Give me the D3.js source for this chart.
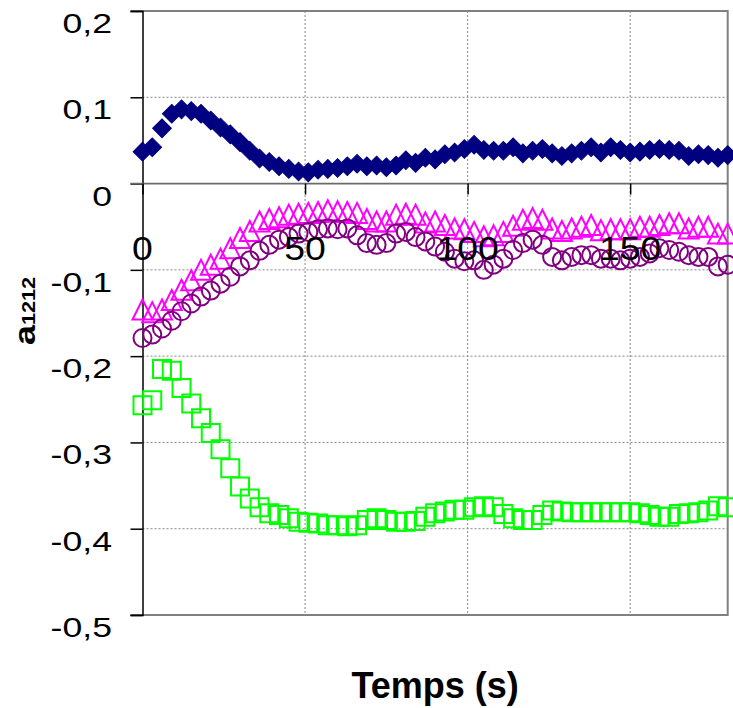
<!DOCTYPE html>
<html>
<head>
<meta charset="utf-8">
<script src="https://cdn.jsdelivr.net/npm/d3@7"></script>
<style>
  body { margin: 0; background: #fff; }
  text { font-family: 'Liberation Sans', Arial, sans-serif; }
</style>
</head>
<body>
<div id="chart"></div>
<script>
// temps (s)
const temps = [0, 3, 6, 9, 12, 15, 18, 21, 24, 27, 30, 33, 36, 39, 42, 45, 48, 51, 54, 57,
  60, 63, 66, 69, 72, 75, 78, 81, 84, 87, 90, 93, 96, 99, 102, 105, 108, 111, 114, 117,
  120, 123, 126, 129, 132, 135, 138, 141, 144, 147, 150, 153, 156, 159, 162, 165, 168, 171, 174, 177, 180]

const serieLosange = [0.037, 0.042, 0.064, 0.081, 0.086, 0.084, 0.081, 0.073, 0.065, 0.057,
  0.048, 0.038, 0.029, 0.025, 0.020, 0.017, 0.014, 0.013, 0.016, 0.017,
  0.018, 0.020, 0.023, 0.020, 0.021, 0.019, 0.021, 0.027, 0.024, 0.030,
  0.028, 0.034, 0.036, 0.040, 0.045, 0.039, 0.038, 0.038, 0.042, 0.035,
  0.038, 0.040, 0.035, 0.032, 0.035, 0.038, 0.042, 0.036, 0.042, 0.039,
  0.036, 0.037, 0.039, 0.040, 0.039, 0.038, 0.032, 0.034, 0.033, 0.030, 0.033]

const serieTriangle = [-0.146, -0.149, -0.146, -0.135, -0.123, -0.112, -0.100, -0.094, -0.087, -0.075,
  -0.063, -0.055, -0.044, -0.041, -0.039, -0.036, -0.035, -0.034, -0.033, -0.031,
  -0.032, -0.033, -0.034, -0.041, -0.044, -0.044, -0.036, -0.035, -0.036, -0.045,
  -0.044, -0.048, -0.052, -0.053, -0.056, -0.061, -0.060, -0.056, -0.049, -0.042,
  -0.040, -0.042, -0.052, -0.055, -0.052, -0.050, -0.048, -0.054, -0.053, -0.053,
  -0.053, -0.050, -0.050, -0.048, -0.046, -0.046, -0.052, -0.050, -0.050, -0.058, -0.058]

const serieCercle = [-0.179, -0.175, -0.168, -0.159, -0.148, -0.139, -0.131, -0.124, -0.116, -0.108,
  -0.096, -0.089, -0.078, -0.071, -0.065, -0.062, -0.058, -0.056, -0.053, -0.052,
  -0.053, -0.052, -0.060, -0.069, -0.071, -0.069, -0.058, -0.056, -0.062, -0.067,
  -0.073, -0.079, -0.087, -0.090, -0.089, -0.100, -0.094, -0.087, -0.077, -0.069,
  -0.065, -0.071, -0.085, -0.089, -0.085, -0.083, -0.083, -0.087, -0.087, -0.089,
  -0.087, -0.085, -0.081, -0.075, -0.077, -0.079, -0.083, -0.085, -0.085, -0.096, -0.094]

const serieCarre = [-0.257, -0.251, -0.215, -0.217, -0.237, -0.255, -0.272, -0.289, -0.308, -0.330,
  -0.351, -0.365, -0.375, -0.382, -0.384, -0.388, -0.392, -0.393, -0.394, -0.396,
  -0.396, -0.397, -0.396, -0.390, -0.388, -0.390, -0.392, -0.392, -0.391, -0.386,
  -0.382, -0.380, -0.378, -0.378, -0.375, -0.374, -0.375, -0.383, -0.388, -0.390,
  -0.390, -0.384, -0.379, -0.380, -0.381, -0.381, -0.381, -0.381, -0.381, -0.381,
  -0.381, -0.382, -0.384, -0.386, -0.386, -0.383, -0.382, -0.381, -0.379, -0.374, -0.375]

const yTicks = [0.2, 0.1, 0, -0.1, -0.2, -0.3, -0.4, -0.5]
const yLabels = ['0,2', '0,1', '0', '-0,1', '-0,2', '-0,3', '-0,4', '-0,5']
const xTicks = [0, 50, 100, 150]

const width = 733
const height = 708

const x = d3.scaleLinear().domain([0, 180]).range([142.5, 727.7])
const y = d3.scaleLinear().domain([-0.5, 0.2]).range([615, 11])

const svg = d3
  .select('#chart')
  .append('svg')
  .attr('width', width)
  .attr('height', height)

// grille pointillée
svg
  .append('g')
  .selectAll('line')
  .data(yTicks.filter((d) => d !== 0 && d !== 0.2 && d !== -0.5))
  .enter()
  .append('line')
  .attr('x1', x(0))
  .attr('x2', x(180))
  .attr('y1', (d) => y(d))
  .attr('y2', (d) => y(d))
  .attr('stroke', '#888')
  .attr('stroke-dasharray', '2,2')

svg
  .append('g')
  .selectAll('line')
  .data(xTicks.filter((d) => d > 0))
  .enter()
  .append('line')
  .attr('x1', (d) => x(d))
  .attr('x2', (d) => x(d))
  .attr('y1', y(0.2))
  .attr('y2', y(-0.5))
  .attr('stroke', '#888')
  .attr('stroke-dasharray', '2,2')

// cadre
svg
  .append('path')
  .attr('d', `M${x(0) - 12},${y(0.2)}H${x(180)}V${y(-0.5)}H${x(0) - 12}`)
  .attr('fill', 'none')
  .attr('stroke', '#808080')
  .attr('stroke-width', 2)

// axe y
const yAxis = svg
  .append('g')
  .attr('transform', `translate(${x(0)},0)`)
  .call(d3.axisLeft(y).tickValues(yTicks).tickSize(12).tickFormat(''))
yAxis.select('.domain').attr('stroke', '#000').attr('stroke-width', 1.5)
yAxis.selectAll('.tick line').attr('stroke', '#000').attr('stroke-width', 1.5)

svg
  .append('g')
  .selectAll('text')
  .data(yTicks)
  .enter()
  .append('text')
  .attr('transform', (d) => `translate(112,${y(d) + 22}) scale(1.25,1)`)
  .attr('text-anchor', 'end')
  .attr('font-size', 28.5)
  .attr('fill', '#000')
  .text((d, i) => yLabels[i])

// axe x sur y = 0
const xAxis = svg
  .append('g')
  .attr('transform', `translate(0,${y(0)})`)
  .call(d3.axisBottom(x).tickValues(xTicks).tickSize(11).tickFormat(''))
xAxis.select('.domain').attr('stroke', '#6a6a6a').attr('stroke-width', 1.8)
  .attr('d', `M${x(0) - 12},0H${x(180)}`)
xAxis.selectAll('.tick line').attr('stroke', '#000').attr('stroke-width', 1.5)

// séries
const carre = d3.symbol(d3.symbolSquare, 18 * 18)
svg
  .append('g')
  .selectAll('path')
  .data(temps)
  .enter()
  .append('path')
  .attr('d', carre)
  .attr('transform', (d, i) => `translate(${x(d)},${y(serieCarre[i])})`)
  .attr('fill', 'none')
  .attr('stroke', '#00ff00')
  .attr('stroke-width', 2)

const triangle = 'M0,-10L10,10L-10,10Z'
svg
  .append('g')
  .selectAll('path')
  .data(temps)
  .enter()
  .append('path')
  .attr('d', triangle)
  .attr('transform', (d, i) => `translate(${x(d)},${y(serieTriangle[i])})`)
  .attr('fill', 'none')
  .attr('stroke', '#ff00ff')
  .attr('stroke-width', 2)

svg
  .append('g')
  .selectAll('circle')
  .data(temps)
  .enter()
  .append('circle')
  .attr('cx', (d) => x(d))
  .attr('cy', (d, i) => y(serieCercle[i]))
  .attr('r', 9)
  .attr('fill', 'none')
  .attr('stroke', '#800080')
  .attr('stroke-width', 2)

const losange = d3.symbol(d3.symbolSquare, 13.2 * 13.2)
svg
  .append('g')
  .selectAll('path')
  .data(temps)
  .enter()
  .append('path')
  .attr('d', losange)
  .attr('transform', (d, i) => `translate(${x(d)},${y(serieLosange[i])}) rotate(45)`)
  .attr('fill', '#000080')
  .attr('stroke', '#000080')
  .attr('stroke-width', 1)

// étiquettes de l'axe x
svg
  .append('g')
  .selectAll('text')
  .data(xTicks)
  .enter()
  .append('text')
  .attr('transform', (d) => `translate(${x(d)},${y(0) + 76.5}) scale(1.15,1)`)
  .attr('text-anchor', 'middle')
  .attr('font-size', 32.5)
  .attr('fill', '#000')
  .text((d) => d)

// titres
svg
  .append('text')
  .attr('x', (x(0) + x(180)) / 2)
  .attr('y', 698)
  .attr('text-anchor', 'middle')
  .attr('font-size', 36)
  .attr('font-weight', 'bold')
  .text('Temps (s)')

const yTitle = svg
  .append('text')
  .attr('transform', 'translate(35,345) rotate(-90) scale(1.2,1)')
  .attr('font-weight', 'bold')
yTitle.append('tspan').attr('font-size', 30).text('a')
yTitle.append('tspan').attr('font-size', 18).text('1212')
</script>
</body>
</html>
